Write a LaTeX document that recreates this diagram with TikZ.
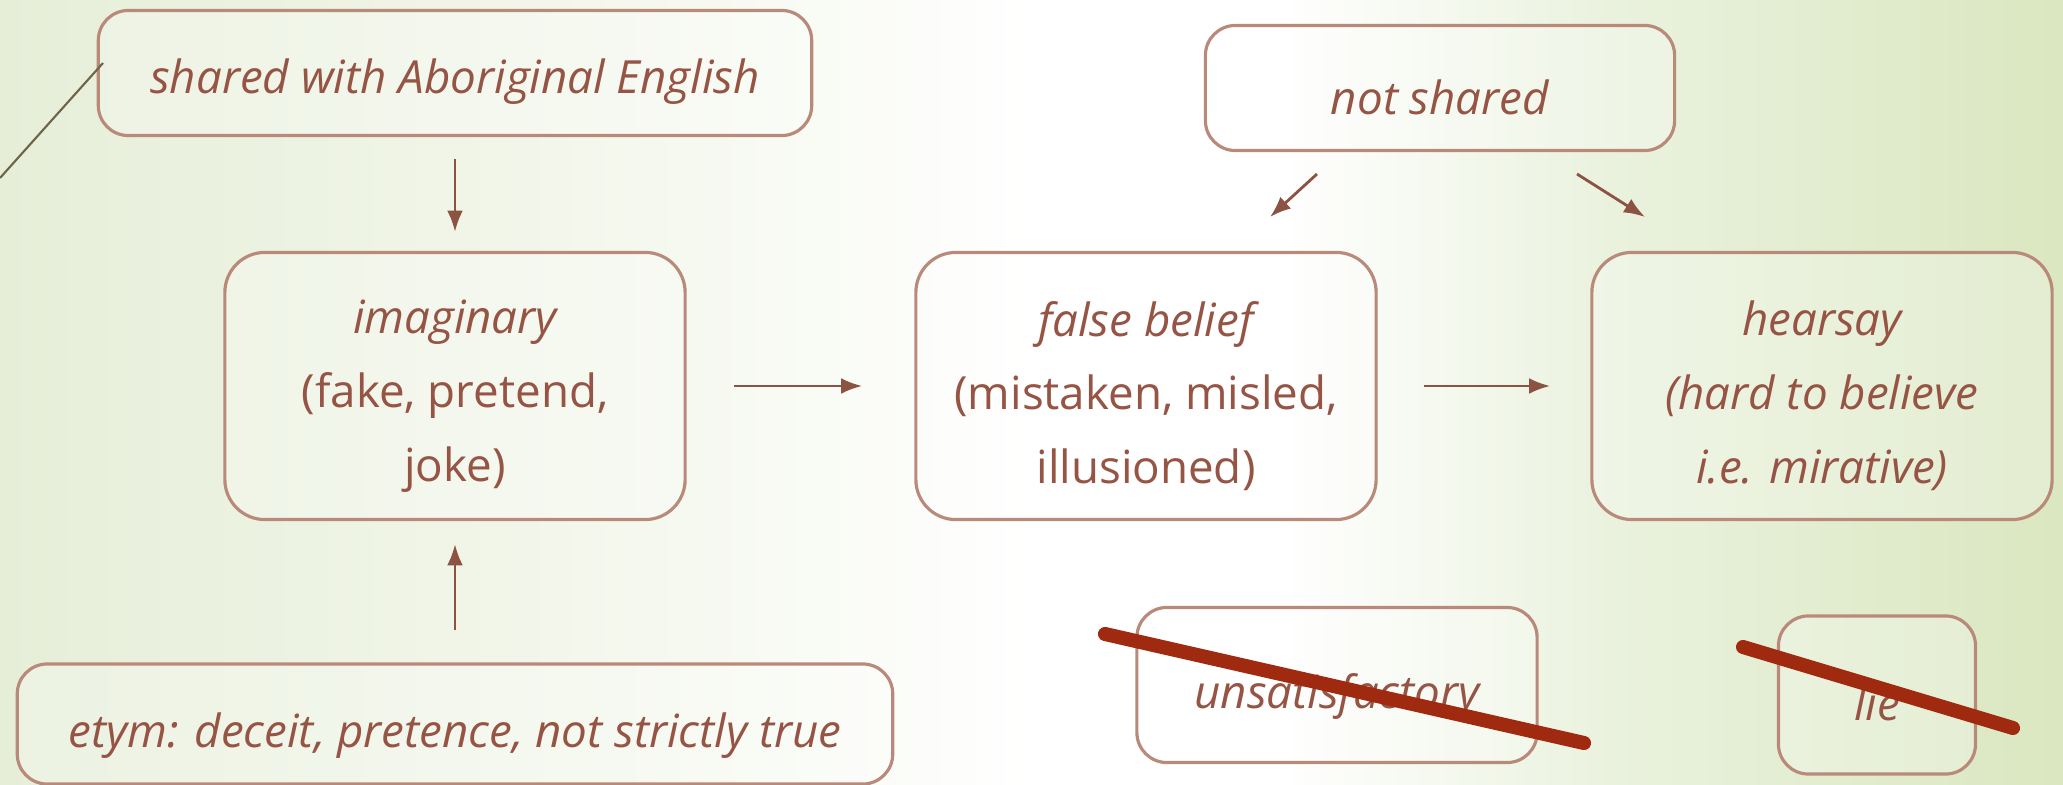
\documentclass[tikz,border=0pt]{standalone}
\usepackage{fontspec}
\setmainfont{Open Sans}
\usepackage{tikz}
\usetikzlibrary{arrows.meta}

\definecolor{txtbrown}{RGB}{150,84,68}
\definecolor{boxbrown}{RGB}{185,138,122}
\definecolor{arrbrown}{RGB}{140,82,66}
\definecolor{strikered}{RGB}{160,42,16}
\definecolor{bgleft}{RGB}{230,238,216}
\definecolor{bgmid}{RGB}{246,249,240}
\definecolor{bgfade}{RGB}{234,242,222}
\definecolor{bgright}{RGB}{218,231,192}
\definecolor{stemline}{RGB}{110,100,72}

% path is fitted to 25bp--75bp of the shading
\pgfdeclarehorizontalshading{bgshade}{100bp}{color(0bp)=(bgleft); color(25bp)=(bgleft); color(42bp)=(bgmid); color(50bp)=(white); color(56bp)=(white); color(64bp)=(bgfade); color(75bp)=(bgright); color(100bp)=(bgright)}

\tikzset{
  box/.style={draw=boxbrown, line width=0.9pt, rounded corners=0.3cm, fill=white, fill opacity=0.25},
  boxtext/.style={text=txtbrown, align=center, inner sep=0pt, font=\fontsize{13}{21}\selectfont},
  arr/.style={-{Latex[length=6pt,width=4.5pt]}, draw=arrbrown, line width=0.8pt},
  strike/.style={strikered, line width=4pt, line cap=round}
}

\begin{document}
\begin{tikzpicture}[x=0.01cm,y=-0.01cm]
   % Background
   \shade[shading=bgshade] (0,0) rectangle (2063,785);
   \useasboundingbox (0,0) rectangle (2063,785);

   % Boxes
   \node[box, minimum width=7.13cm, minimum height=1.25cm] (shared) at (455,73) {};
   \node[box, minimum width=4.69cm, minimum height=1.25cm] (notshared) at (1440,88) {};
   \node[box, rounded corners=0.4cm, minimum width=4.6cm, minimum height=2.67cm] (imag) at (455,386) {};
   \node[box, rounded corners=0.4cm, minimum width=4.6cm, minimum height=2.67cm] (falseb) at (1146,386) {};
   \node[box, rounded corners=0.4cm, minimum width=4.6cm, minimum height=2.67cm] (hearsay) at (1822,386) {};
   \node[box, minimum width=8.75cm, minimum height=1.2cm] (etym) at (455,724) {};
   \node[box, minimum width=4.0cm, minimum height=1.55cm] (unsat) at (1337,685) {};
   \node[box, minimum width=1.97cm, minimum height=1.58cm] (lie) at (1877,695) {};

   % Texts
   \node[boxtext] (sharedtxt) at ([yshift=-0.09cm]shared.center) {\itshape shared with Aboriginal English};
   \node[boxtext] (notsharedtxt) at ([yshift=-0.09cm]notshared.center) {\itshape not shared};
   \node[boxtext] (imagtxt) at ([yshift=-0.1cm]imag.center) {{\itshape imaginary}\\(fake, pretend,\\joke)};
   \node[boxtext] (falsebtxt) at ([yshift=-0.1cm]falseb.center) {{\itshape false belief}\\(mistaken, misled,\\illusioned)};
   \node[boxtext] (hearsaytxt) at ([yshift=-0.1cm]hearsay.center) {\itshape hearsay\\\itshape (hard to believe\\\itshape i.e. mirative)};
   \node[boxtext] (etymtxt) at ([yshift=-0.12cm]etym.center) {\itshape etym: deceit, pretence, not strictly true};
   \node[boxtext] (unsattxt) at ([yshift=-0.12cm]unsat.center) {\itshape unsatisfactory};
   \node[boxtext] (lietxt) at ([yshift=-0.08cm]lie.center) {\itshape lie};

   % Arrows
   \draw[arr, shorten <=0.22cm, shorten >=0.19cm] (shared) -- (imag);
   \draw[arr, shorten <=0.32cm, shorten >=0.23cm] (etym) -- (imag);
   \draw[arr, shorten <=0.47cm, shorten >=0.52cm] (imag) -- (falseb);
   \draw[arr, shorten <=0.46cm, shorten >=0.40cm] (falseb) -- (hearsay);
   \coordinate (nsleft) at (1317,174);
   \coordinate (nsright) at (1577,174);
   \coordinate (tofalse) at (1270,217);
   \coordinate (tohear) at (1645,217);
   \draw[arr] (nsleft) -- (tofalse);
   \draw[arr] (nsright) -- (tohear);

   % Crossed out
   \draw[strike] (1105,634) -- (1584,743);
   \draw[strike] (1743,647) -- (2013,728);

   % Stem
   \draw[stemline, line width=0.6pt] (0,178) -- (103,63);
\end{tikzpicture}
\end{document}
